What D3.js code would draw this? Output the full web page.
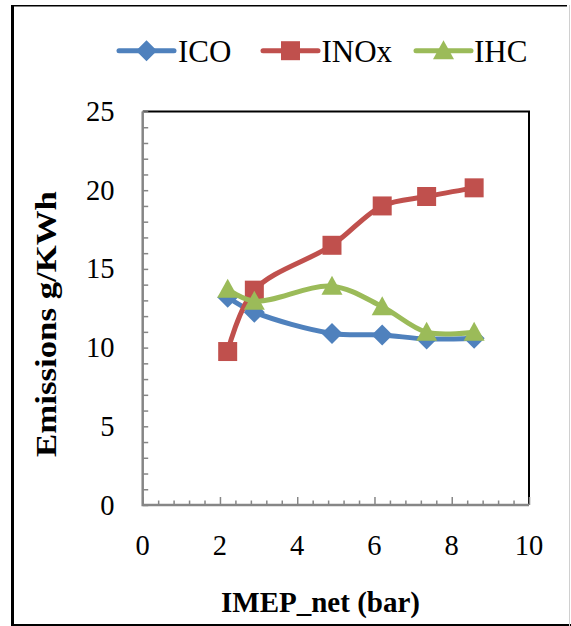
<!DOCTYPE html>
<html>
<head>
<meta charset="utf-8">
<script src="https://cdn.jsdelivr.net/npm/d3@7"></script>
<style>
  html, body { margin: 0; padding: 0; background: #fff; }
  svg { display: block; }
  text { font-family: "Liberation Serif", "Times New Roman", serif; fill: #000; }
</style>
</head>
<body>
<svg id="chart" width="571" height="626"></svg>
<script>
// Engine load (IMEP_net, bar) and specific emissions (g/KWh)
const imep = [2.2, 2.89, 4.9, 6.2, 7.35, 8.58];
const icoValues = [13.2, 12.25, 10.9, 10.8, 10.55, 10.6];
const inoxValues = [9.75, 13.65, 16.5, 19.0, 19.6, 20.15];
const ihcValues = [13.7, 12.95, 13.9, 12.6, 10.98, 10.98];
const seriesNames = ["ICO", "INOx", "IHC"];
const xTickValues = [0, 2, 4, 6, 8, 10];
const yTickValues = [0, 5, 10, 15, 20, 25];

const colors = { ICO: "#4F81BD", INOx: "#C0504D", IHC: "#9BBB59" };
const shapes = { ICO: "diamond", INOx: "square", IHC: "triangle" };

const series = [
  { name: "ICO", values: icoValues },
  { name: "INOx", values: inoxValues },
  { name: "IHC", values: ihcValues }
];

const svg = d3.select("#chart");

// Outer frame
svg.append("line").attr("x1", 12.5).attr("x2", 12.5).attr("y1", 5).attr("y2", 626)
  .attr("stroke", "#000").attr("stroke-width", 3);
svg.append("line").attr("x1", 11).attr("x2", 567).attr("y1", 5.8).attr("y2", 5.8)
  .attr("stroke", "#000").attr("stroke-width", 1.6);
svg.append("line").attr("x1", 11).attr("x2", 571).attr("y1", 625).attr("y2", 625)
  .attr("stroke", "#000").attr("stroke-width", 2);
svg.append("line").attr("x1", 569.5).attr("x2", 569.5).attr("y1", 5).attr("y2", 626)
  .attr("stroke", "#d0d0d0").attr("stroke-width", 1);

// Plot area
const plot = { left: 142.7, right: 529, top: 111.5, bottom: 505 };
const x = d3.scaleLinear().domain([0, 10]).range([plot.left, plot.right]);
const y = d3.scaleLinear().domain([0, 25]).range([plot.bottom, plot.top]);

// Top and right borders of the plot area
svg.append("path")
  .attr("d", `M${plot.left},${plot.top}H${plot.right}V${plot.bottom}`)
  .attr("fill", "none").attr("stroke", "#000").attr("stroke-width", 2);

// Y axis: ticks every 1 unit, pointing into the plot
const yAxis = d3.axisRight(y)
  .tickValues(d3.range(0, 26, 1))
  .tickSize(5.5)
  .tickFormat("");
svg.append("g").attr("transform", `translate(${plot.left},0)`).call(yAxis)
  .call(g => g.select(".domain").remove())
  .call(g => g.selectAll(".tick line").attr("stroke", "#868686").attr("stroke-width", 1.5));

// X axis: minor ticks every 0.4, major every 2, pointing into the plot
const xMinor = d3.axisTop(x)
  .tickValues(d3.range(0, 10.01, 0.4).filter(v => Math.abs(v / 2 - Math.round(v / 2)) > 1e-6))
  .tickSize(4.5).tickFormat("");
svg.append("g").attr("transform", `translate(0,${plot.bottom})`).call(xMinor)
  .call(g => g.select(".domain").remove())
  .call(g => g.selectAll(".tick line").attr("stroke", "#868686").attr("stroke-width", 1.5));
const xMajor = d3.axisTop(x).tickValues(xTickValues).tickSize(8).tickFormat("");
svg.append("g").attr("transform", `translate(0,${plot.bottom})`).call(xMajor)
  .call(g => g.select(".domain").remove())
  .call(g => g.selectAll(".tick line").attr("stroke", "#868686").attr("stroke-width", 1.5));

// Axis lines
svg.append("path")
  .attr("d", `M${plot.left},${plot.top}V${plot.bottom}H${plot.right}`)
  .attr("fill", "none").attr("stroke", "#868686").attr("stroke-width", 2.5);

// Tick labels
svg.append("g").selectAll("text").data(xTickValues).join("text")
  .attr("x", d => x(d)).attr("y", 555)
  .attr("text-anchor", "middle").attr("font-size", 28.5)
  .text(d => d);
svg.append("g").selectAll("text").data(yTickValues).join("text")
  .attr("x", 114.5).attr("y", d => y(d) + 9.5)
  .attr("text-anchor", "end").attr("font-size", 28.5)
  .text(d => d);

// Axis titles
svg.append("text")
  .attr("x", 320.5).attr("y", 612)
  .attr("text-anchor", "middle").attr("font-size", 29).attr("font-weight", "bold")
  .text("IMEP_net (bar)");
svg.append("text")
  .attr("transform", "translate(56,324) rotate(-90) scale(1.2,1)")
  .attr("text-anchor", "middle").attr("font-size", 29).attr("font-weight", "bold")
  .text("Emissions g/KWh");

// Marker shapes, centred on the data point
function markerPath(shape) {
  if (shape === "square") return "M-9.5,-9.5H9.5V9.5H-9.5Z";
  if (shape === "diamond") return "M0,-10.5L10.5,0L0,10.5L-10.5,0Z";
  return "M0,-10.5L10.5,8.5H-10.5Z";
}

const line = d3.line()
  .x((d, i) => x(imep[i]))
  .y(d => y(d))
  .curve(d3.curveCatmullRom.alpha(0.5));

const seriesG = svg.append("g").selectAll("g").data(series).join("g");
seriesG.append("path")
  .attr("d", d => line(d.values))
  .attr("fill", "none")
  .attr("stroke", d => colors[d.name])
  .attr("stroke-width", 5)
  .attr("stroke-linejoin", "round")
  .attr("stroke-linecap", "round");
seriesG.each(function (s) {
  d3.select(this).selectAll("path.marker").data(s.values).join("path")
    .attr("class", "marker")
    .attr("transform", (d, i) => `translate(${x(imep[i])},${y(d)})`)
    .attr("d", markerPath(shapes[s.name]))
    .attr("fill", colors[s.name]);
});

// Legend
const legendItems = [
  { name: "ICO", x1: 119, x2: 174, tx: 178 },
  { name: "INOx", x1: 263, x2: 318, tx: 321.5 },
  { name: "IHC", x1: 416, x2: 471, tx: 474 }
];
const legendY = 50.7;
const lg = svg.append("g").selectAll("g").data(legendItems).join("g");
lg.append("line")
  .attr("x1", d => d.x1).attr("x2", d => d.x2)
  .attr("y1", legendY).attr("y2", legendY)
  .attr("stroke", d => colors[d.name]).attr("stroke-width", 5)
  .attr("stroke-linecap", "round");
lg.append("path")
  .attr("transform", d => `translate(${(d.x1 + d.x2) / 2},${legendY})`)
  .attr("d", d => markerPath(shapes[d.name]))
  .attr("fill", d => colors[d.name]);
lg.append("text")
  .attr("x", d => d.tx).attr("y", 61.5)
  .attr("font-size", 31)
  .text(d => d.name);
</script>
</body>
</html>
